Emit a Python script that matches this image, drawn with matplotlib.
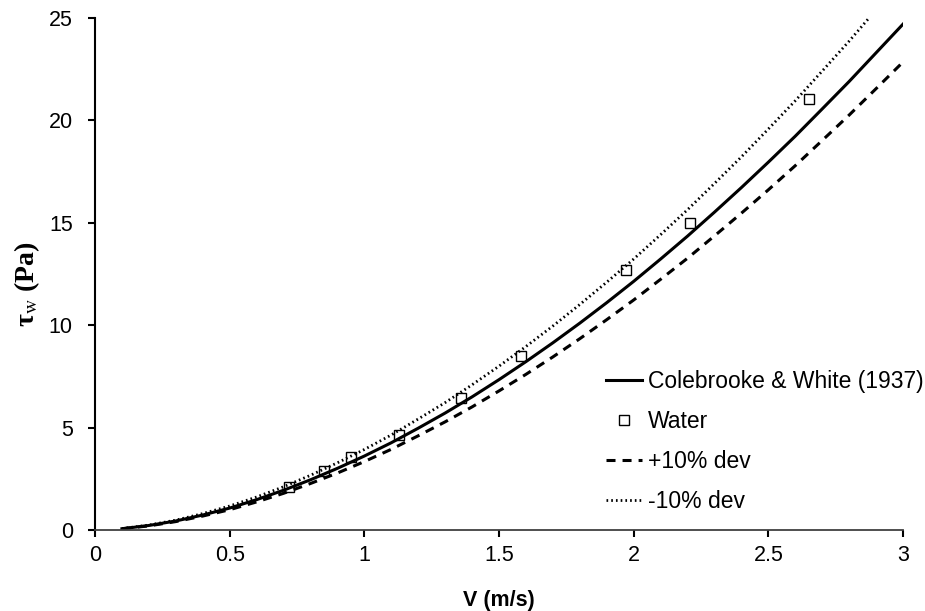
import matplotlib.pyplot as plt

# Скорость и касательное напряжение на стенке
v = [0.1, 0.2, 0.3, 0.4, 0.5, 0.6, 0.7, 0.8, 0.9, 1.0,
     1.1, 1.2, 1.3, 1.4, 1.5, 1.6, 1.7, 1.8, 1.9, 2.0,
     2.1, 2.2, 2.3, 2.4, 2.5, 2.6, 2.7, 2.8, 2.9, 3.0]
tau_cw = [0.06, 0.22, 0.44, 0.73, 1.07, 1.48, 1.94, 2.45, 3.01, 3.61,
          4.26, 4.97, 5.71, 6.50, 7.34, 8.22, 9.14, 10.10, 11.10, 12.14,
          13.23, 14.35, 15.52, 16.72, 17.96, 19.23, 20.56, 21.90, 23.30, 24.70]
tau_plus = [0.06, 0.20, 0.41, 0.68, 0.99, 1.37, 1.79, 2.27, 2.78, 3.34,
            3.94, 4.60, 5.28, 6.01, 6.79, 7.60, 8.45, 9.34, 10.27, 11.23,
            12.24, 13.27, 14.36, 15.47, 16.61, 17.79, 19.02, 20.26, 21.55, 22.85]
tau_minus = [0.07, 0.24, 0.48, 0.80, 1.17, 1.61, 2.11, 2.67, 3.28, 3.93,
             4.64, 5.42, 6.22, 7.09, 8.00, 8.96, 9.96, 11.01, 12.10, 13.23,
             14.42, 15.64, 16.92, 18.22, 19.58, 20.96, 22.41, 23.87, 25.40, 26.92]

# Экспериментальные точки (вода)
v_water = [0.72, 0.85, 0.95, 1.13, 1.36, 1.58, 1.97, 2.21, 2.65]
tau_water = [2.1, 2.9, 3.55, 4.65, 6.45, 8.5, 12.7, 15.0, 21.05]

plt.rcParams['font.family'] = ['Liberation Sans', 'DejaVu Sans']
plt.rcParams['mathtext.fontset'] = 'stix'

fig = plt.figure(figsize=(9.25, 6.11), dpi=100)
ax = fig.add_axes([0.1027, 0.1326, 0.8735, 0.8379])

ax.plot(v, tau_cw, color="black", linewidth=2.2, label="Colebrooke & White (1937)")
ax.plot(v_water, tau_water, linestyle="none", marker="s", markersize=7.5,
        markerfacecolor="none", markeredgecolor="black", markeredgewidth=1.0,
        label="Water")
ax.plot(v, tau_plus, color="black", linewidth=2.2, linestyle=(0, (2.95, 2.3)), label="+10% dev")
ax.plot(v, tau_minus, color="black", linewidth=2.0, linestyle=(0, (0.6, 1.1)), label="-10% dev")

ax.set_xlim(0, 3)
ax.set_ylim(0, 25)
ax.set_xticks([0, 0.5, 1, 1.5, 2, 2.5, 3])
ax.set_xticklabels(["0", "0.5", "1", "1.5", "2", "2.5", "3"])
ax.set_yticks([0, 5, 10, 15, 20, 25])

for side in ["top", "right"]:
    ax.spines[side].set_visible(False)
ax.spines["left"].set_linewidth(1.5)
ax.spines["bottom"].set_linewidth(1.3)
ax.spines["bottom"].set_color("#404040")
ax.tick_params(direction="out", length=5, width=1.5, labelsize=15.5)
ax.tick_params(axis="y", pad=11)
ax.tick_params(axis="x", pad=6)

ax.set_xlabel("V (m/s)", fontsize=15.5, fontweight="bold", labelpad=17)
ax.set_ylabel(r"τ$_{\mathrm{w}}$ (Pa)", fontsize=20, fontweight="bold",
              family=["Liberation Serif", "DejaVu Serif"])
ax.yaxis.set_label_coords(-0.066, 0.48)

ax.legend(loc="lower right", bbox_to_anchor=(1.051, -0.008), frameon=False,
          fontsize=16.5, handlelength=1.6, handletextpad=0.25, labelspacing=0.745)

fig.savefig("out.png", dpi=100)
